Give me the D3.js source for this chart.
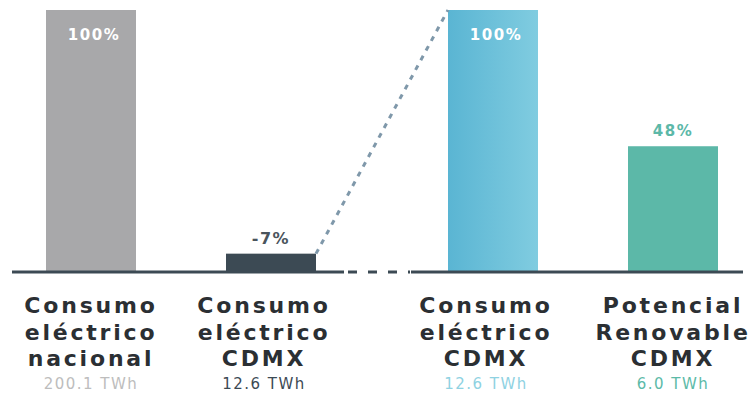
<!DOCTYPE html>
<html>
<head>
<meta charset="utf-8">
<script src="https://cdn.jsdelivr.net/npm/d3@7"></script>
<style>
  html, body { margin: 0; padding: 0; background: #ffffff; }
  svg { display: block; }
  text { font-family: "DejaVu Sans", sans-serif; }
</style>
</head>
<body>
<svg id="chart" width="753" height="393"></svg>
<script>
// Electricity consumption vs. renewable potential (CDMX)
const categories = ["nacional", "cdmx", "cdmx2", "renovable"];
const labelLines = [
  ["Consumo", "eléctrico", "nacional"],
  ["Consumo", "eléctrico", "CDMX"],
  ["Consumo", "eléctrico", "CDMX"],
  ["Potencial", "Renovable", "CDMX"]
];
const percentValues = [100, 7, 100, 48];
const percentLabels = ["100%", "-7%", "100%", "48%"];
const energyLabels = ["200.1 TWh", "12.6 TWh", "12.6 TWh", "6.0 TWh"];

const barColors = ["#a8a8aa", "#3c4a54", "url(#blueGrad)", "#5cb8a8"];
const energyColors = ["#bdbdbd", "#3c4a54", "#8fd2e2", "#5cbaa8"];
const pctColors = ["#ffffff", "#4a545c", "#ffffff", "#5cb8a8"];

const svg = d3.select("#chart");
const baseY = 272;
const topY = 10;

const defs = svg.append("defs");
const grad = defs.append("linearGradient").attr("id", "blueGrad")
  .attr("x1", "0%").attr("x2", "100%").attr("y1", "0%").attr("y2", "0%");
grad.append("stop").attr("offset", "0%").attr("stop-color", "#5ab5d3");
grad.append("stop").attr("offset", "100%").attr("stop-color", "#80cce0");

// Horizontal placement: four equal bands, with an extra gap before the CDMX comparison
const gapShift = 42;
const xBand = d3.scaleBand().domain(categories).range([1, 721]).paddingInner(0.5).paddingOuter(0.25);
const xPos = (c, i) => xBand(c) + (i >= 2 ? gapShift : 0);
const y = d3.scaleLinear().domain([0, 100]).range([baseY, topY]);

// bars
svg.append("g").selectAll("rect").data(categories).join("rect")
  .attr("x", (c, i) => xPos(c, i))
  .attr("width", xBand.bandwidth())
  .attr("y", (c, i) => y(percentValues[i]))
  .attr("height", (c, i) => y(0) - y(percentValues[i]))
  .attr("fill", (c, i) => barColors[i]);

// dashed connector from the CDMX share up to the full CDMX bar
const x1 = xPos(categories[1], 1) + xBand.bandwidth();
const x2 = xPos(categories[2], 2);
svg.append("line")
  .attr("x1", x1).attr("y1", y(percentValues[1]))
  .attr("x2", x2).attr("y2", y(percentValues[2]))
  .attr("stroke", "#7f98aa").attr("stroke-width", 3)
  .attr("stroke-dasharray", "5,6");

// baseline: solid, dashed across the gap, then solid again
const gapL = x1 + 28, gapR = x2 - 38;
svg.append("line").attr("x1", 12).attr("x2", gapL).attr("y1", baseY).attr("y2", baseY)
  .attr("stroke", "#3c4a54").attr("stroke-width", 3);
svg.append("line").attr("x1", gapL + 4).attr("x2", gapR).attr("y1", baseY).attr("y2", baseY)
  .attr("stroke", "#3c4a54").attr("stroke-width", 3).attr("stroke-dasharray", "9,11");
svg.append("line").attr("x1", gapR + 1).attr("x2", 743).attr("y1", baseY).attr("y2", baseY)
  .attr("stroke", "#3c4a54").attr("stroke-width", 3);

// percentage labels
svg.append("g").selectAll("text").data(categories).join("text")
  .attr("x", (c, i) => xPos(c, i) + xBand.bandwidth() / 2 + (percentValues[i] >= 90 ? 3 : 0))
  .attr("y", (c, i) => percentValues[i] >= 90 ? y(percentValues[i]) + 30 : y(percentValues[i]) - 10)
  .attr("text-anchor", "middle")
  .attr("font-size", (c, i) => i === 1 ? 16 : 15)
  .attr("font-weight", "bold")
  .attr("letter-spacing", 1.5)
  .attr("fill", (c, i) => pctColors[i])
  .text((c, i) => percentLabels[i]);

// category labels
const lab = svg.append("g").selectAll("g").data(categories).join("g")
  .attr("transform", (c, i) => `translate(${xPos(c, i) + xBand.bandwidth() / 2 - (i === 1 || i === 2 ? 7 : 0)},0)`);
lab.each(function (c, i) {
  const g = d3.select(this);
  labelLines[i].forEach((t, k) => {
    g.append("text")
      .attr("x", 0).attr("y", 313 + k * 26.5)
      .attr("text-anchor", "middle")
      .attr("font-size", 22)
      .attr("font-weight", "bold")
      .attr("letter-spacing", 2.8)
      .attr("fill", "#2b2f33")
      .text(t);
  });
  g.append("text")
    .attr("x", 0).attr("y", 389)
    .attr("text-anchor", "middle")
    .attr("font-size", 15)
    .attr("letter-spacing", 1.5)
    .attr("fill", energyColors[i])
    .text(energyLabels[i]);
});
</script>
</body>
</html>
